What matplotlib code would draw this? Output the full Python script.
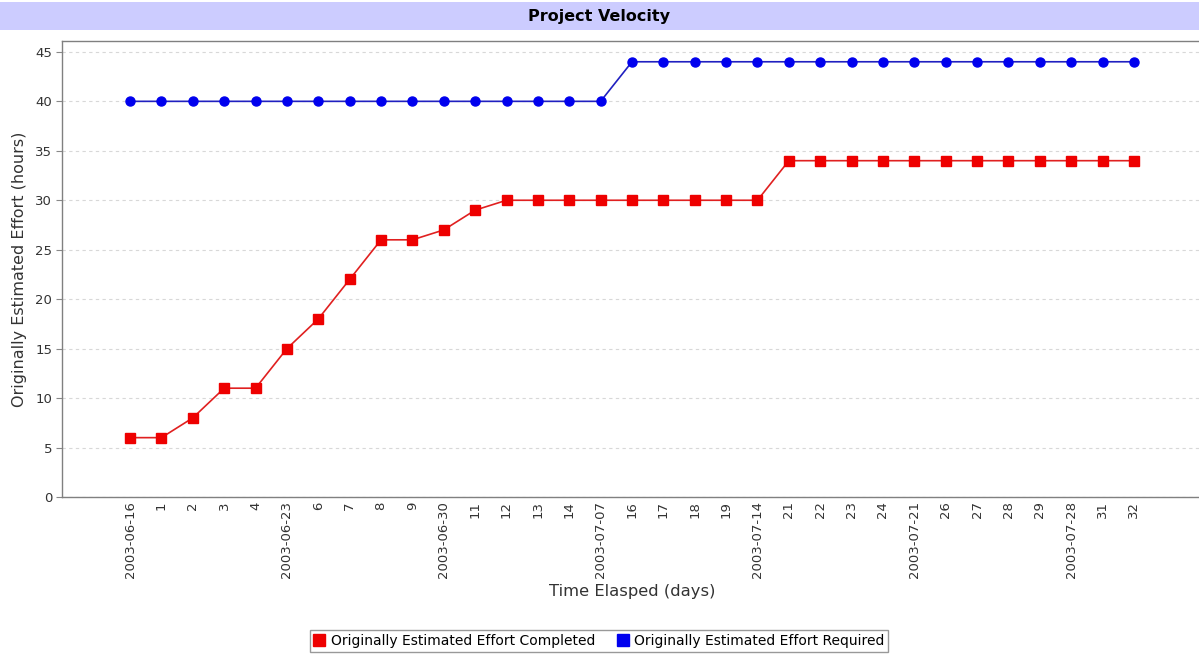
import matplotlib.pyplot as plt
from matplotlib.patches import Rectangle
from matplotlib.lines import Line2D

plt.rcParams['font.family'] = ['DejaVu Sans']

# x categories (days elapsed, weekly dates shown)
tick_labels = ['2003-06-16', '1', '2', '3', '4', '2003-06-23', '6', '7', '8', '9',
               '2003-06-30', '11', '12', '13', '14', '2003-07-07', '16', '17', '18', '19',
               '2003-07-14', '21', '22', '23', '24', '2003-07-21', '26', '27', '28', '29',
               '2003-07-28', '31', '32']
days = list(range(len(tick_labels)))

completed = [6, 6, 8, 11, 11, 15, 18, 22, 26, 26, 27, 29, 30, 30, 30, 30, 30, 30, 30, 30,
             30, 34, 34, 34, 34, 34, 34, 34, 34, 34, 34, 34, 34]
required = [40, 40, 40, 40, 40, 40, 40, 40, 40, 40, 40, 40, 40, 40, 40, 40,
            44, 44, 44, 44, 44, 44, 44, 44, 44, 44, 44, 44, 44, 44, 44, 44, 44]

W, H = 1199, 654
fig = plt.figure(figsize=(W / 100, H / 100), dpi=100)
fig.patch.set_facecolor('white')

# title band
fig.patches.append(Rectangle((0, (H - 30) / H), 1, 28 / H, transform=fig.transFigure,
                             facecolor='#ccccff', edgecolor='none', zorder=0))
fig.text(0.5, (H - 17) / H, 'Project Velocity', ha='center', va='center',
         fontsize=11.5, fontweight='bold')

ax = fig.add_axes([62 / W, (H - 497) / H, (1202 - 62) / W, (497 - 41) / H])

ax.plot(days, completed, color='#e02020', lw=1.2, marker='s', ms=6.5,
        mfc='#ee0000', mec='#ee0000', zorder=3)
ax.plot(days, required, color='#2020c0', lw=1.2, marker='o', ms=6.5,
        mfc='#0000ee', mec='#0000ee', zorder=3)

ax.set_xlim(-2.17, 34.17)
ax.set_ylim(0, 46.1)
ax.set_yticks(range(0, 50, 5))
ax.set_xticks(days)
ax.set_xticklabels(tick_labels, rotation=90, va='top', ha='center')
ax.tick_params(axis='x', length=0, pad=3, labelsize=9.5, colors='#333333')
ax.tick_params(axis='y', length=4, width=0.8, pad=3, labelsize=9.5,
               colors='#888888', labelcolor='#333333')

ax.grid(axis='y', color='#d8d8d8', lw=0.8, ls=(0, (3, 3)))
ax.set_axisbelow(True)
for s in ['left', 'top', 'bottom']:
    ax.spines[s].set_color('#808080')
    ax.spines[s].set_linewidth(1.0)
ax.spines['right'].set_visible(False)

ax.set_ylabel('Originally Estimated Effort (hours)', fontsize=11.5, color='#333333', labelpad=6)
ax.set_xlabel('Time Elasped (days)', fontsize=11.8, color='#333333', labelpad=4)

handles = [Line2D([], [], ls='none', marker='s', ms=8, mfc='#ee0000', mec='#ee0000'),
           Line2D([], [], ls='none', marker='s', ms=8, mfc='#0000ee', mec='#0000ee')]
leg = fig.legend(handles, ['Originally Estimated Effort Completed',
                           'Originally Estimated Effort Required'],
                 loc='center', bbox_to_anchor=(599 / W, 13 / H), ncol=2,
                 fontsize=10, frameon=True, fancybox=False, handlelength=0.8,
                 handletextpad=0.4, columnspacing=1.6, borderpad=0.3)
leg.get_frame().set_edgecolor('#808080')
leg.get_frame().set_linewidth(1.0)

fig.savefig('out.png', dpi=100)
